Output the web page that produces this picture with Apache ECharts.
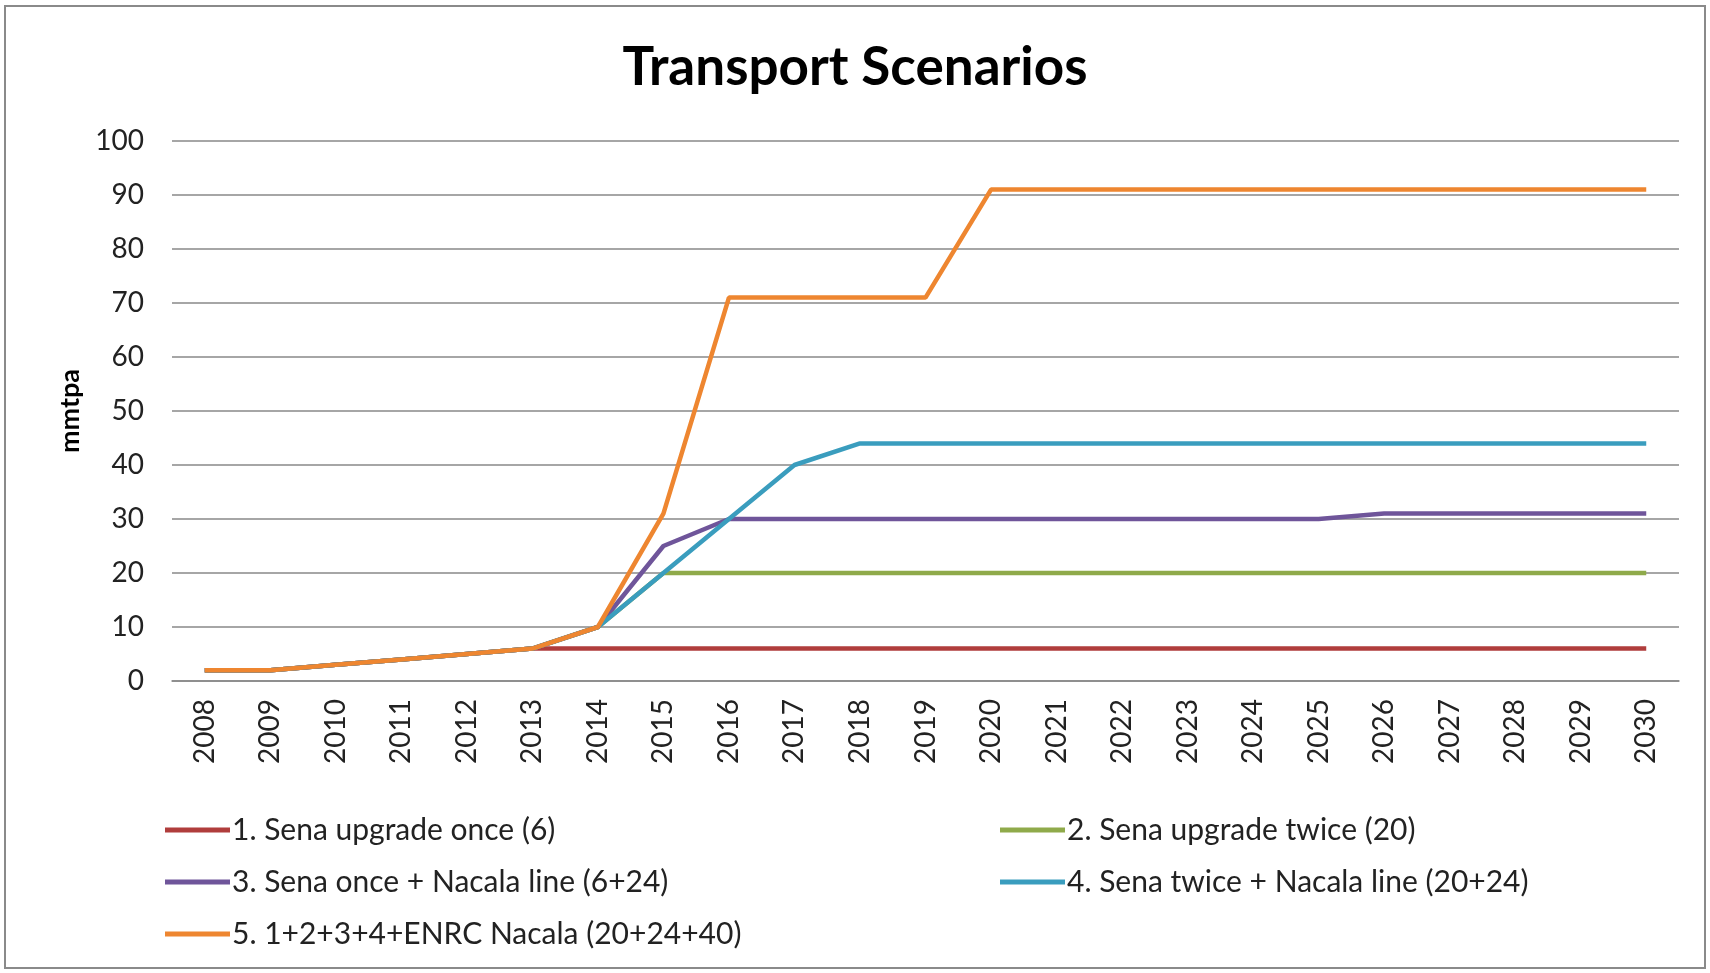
<!DOCTYPE html>
<html>
<head>
<meta charset="utf-8">
<script src="https://cdn.jsdelivr.net/npm/echarts@6/dist/echarts.min.js"></script>
<style>
html,body{margin:0;padding:0;background:#fff;}
#chart{width:1710px;height:973px;}
</style>
</head>
<body>
<div id="chart"></div>
<script>
const years = ['2008','2009','2010','2011','2012','2013','2014','2015','2016','2017','2018','2019','2020','2021','2022','2023','2024','2025','2026','2027','2028','2029','2030'];
const names = ['1. Sena upgrade once (6)','2. Sena upgrade twice (20)','3. Sena once + Nacala line (6+24)','4. Sena twice + Nacala line (20+24)','5. 1+2+3+4+ENRC Nacala (20+24+40)'];
const s1 = [2,2,3,4,5,6,6,6,6,6,6,6,6,6,6,6,6,6,6,6,6,6,6];
const s2 = [2,2,3,4,5,6,10,20,20,20,20,20,20,20,20,20,20,20,20,20,20,20,20];
const s3 = [2,2,3,4,5,6,10,25,30,30,30,30,30,30,30,30,30,30,31,31,31,31,31];
const s4 = [2,2,3,4,5,6,10,20,30,40,44,44,44,44,44,44,44,44,44,44,44,44,44];
const s5 = [2,2,3,4,5,6,10,31,71,71,71,71,91,91,91,91,91,91,91,91,91,91,91];
const colors = ['#B03D3C','#8FAA4A','#6F559A','#3A9DBE','#EE8630'];
const seriesData = [s1,s2,s3,s4,s5];

const FONT = 'Lato, "Open Sans", sans-serif';
const chart = echarts.init(document.getElementById('chart'));
chart.setOption({
  backgroundColor: '#fff',
  animation: false,
  title: {
    text: 'Transport Scenarios',
    left: 'center',
    top: 36,
    textStyle: {fontFamily: FONT, fontWeight: 'bold', fontSize: 53, color: '#000'}
  },
  graphic: [{
    type: 'rect', shape: {x: 5, y: 6, width: 1700, height: 962},
    style: {fill: 'none', stroke: '#8a8a8a', lineWidth: 2}, silent: true
  }],
  grid: {left: 172, right: 31, top: 141, bottom: 292, containLabel: false},
  xAxis: {
    type: 'category',
    data: years,
    boundaryGap: true,
    axisLine: {show: true, lineStyle: {color: '#888', width: 1.5}},
    axisTick: {show: false},
    axisLabel: {rotate: 90, margin: 18, fontFamily: FONT, fontSize: 28, color: '#222'}
  },
  yAxis: {
    type: 'value',
    min: 0, max: 100, interval: 10,
    name: 'mmtpa',
    nameLocation: 'middle',
    nameGap: 88,
    nameRotate: 90,
    nameTextStyle: {fontFamily: FONT, fontWeight: 'bold', fontSize: 27, color: '#000'},
    axisLine: {show: false},
    axisTick: {show: false},
    axisLabel: {margin: 28, fontFamily: FONT, fontSize: 28, color: '#222'},
    splitLine: {lineStyle: {color: '#888', width: 1.5}}
  },
  legend: [{
    data: [names[0], names[2], names[4]],
    orient: 'vertical',
    left: 160, top: 810,
    icon: 'rect', itemWidth: 65, itemHeight: 5, itemGap: 22,
    textStyle: {fontFamily: FONT, fontSize: 30, color: '#222', lineHeight: 30, padding: [0,0,0,-3]}
  },{
    data: [names[1], names[3]],
    orient: 'vertical',
    left: 995, top: 810,
    icon: 'rect', itemWidth: 65, itemHeight: 5, itemGap: 22,
    textStyle: {fontFamily: FONT, fontSize: 30, color: '#222', lineHeight: 30, padding: [0,0,0,-3]}
  }],
  series: seriesData.map((d, i) => ({
    name: names[i],
    type: 'line',
    data: d,
    symbol: 'none',
    color: colors[i],
    lineStyle: {width: 4.5, color: colors[i]},
    z: 2 + i
  }))
});
</script>
</body>
</html>
